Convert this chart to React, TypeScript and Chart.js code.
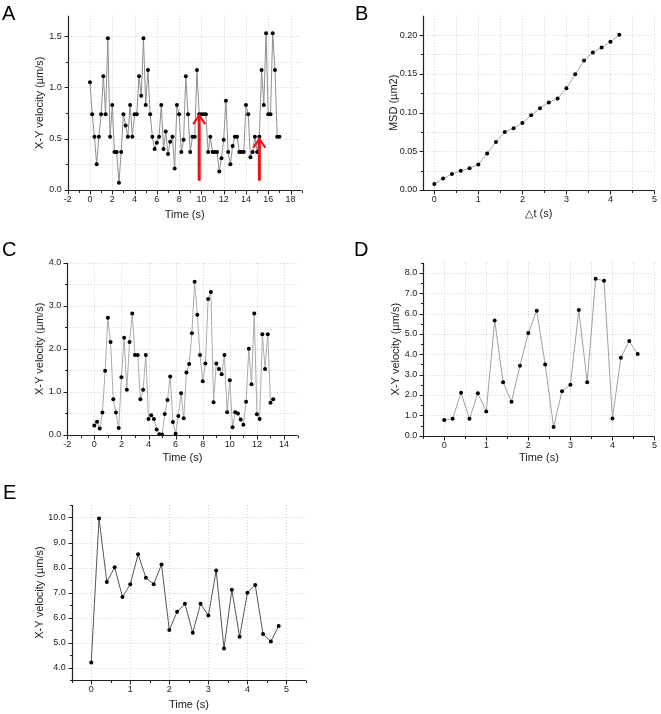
import React, { useEffect, useRef } from "react";
import { Chart, registerables } from "chart.js";

Chart.register(...registerables);

const FONT = "'Liberation Sans', Arial, Helvetica, sans-serif";

// ---------- Panel A ----------
const A_TIME = [0, 0.2, 0.4, 0.6, 0.8, 1, 1.2, 1.4, 1.6, 1.8, 2, 2.2, 2.4, 2.6, 2.8, 3, 3.2, 3.4, 3.6, 3.8, 4, 4.2, 4.4, 4.6, 4.8, 5, 5.2, 5.4, 5.6, 5.8, 6, 6.2, 6.4, 6.6, 6.8, 7, 7.2, 7.4, 7.6, 7.8, 8, 8.2, 8.4, 8.6, 8.8, 9, 9.2, 9.4, 9.6, 9.8, 10, 10.2, 10.4, 10.6, 10.8, 11, 11.2, 11.4, 11.6, 11.8, 12, 12.2, 12.4, 12.6, 12.8, 13, 13.2, 13.4, 13.6, 13.8, 14, 14.2, 14.4, 14.6, 14.8, 15, 15.2, 15.4, 15.6, 15.8, 16, 16.2, 16.4, 16.6, 16.8, 17];
const A_VEL = [1.05, 0.74, 0.52, 0.25, 0.52, 0.74, 1.11, 0.74, 1.48, 0.52, 0.83, 0.37, 0.37, 0.07, 0.37, 0.74, 0.63, 0.52, 0.83, 0.52, 0.74, 0.74, 1.11, 0.92, 1.48, 0.83, 1.17, 0.74, 0.52, 0.40, 0.46, 0.52, 0.83, 0.40, 0.57, 0.35, 0.47, 0.52, 0.21, 0.83, 0.74, 0.37, 0.49, 1.11, 0.74, 0.37, 0.52, 0.52, 1.17, 0.74, 0.74, 0.74, 0.74, 0.37, 0.52, 0.37, 0.37, 0.37, 0.18, 0.31, 0.49, 0.87, 0.37, 0.25, 0.43, 0.52, 0.52, 0.37, 0.37, 0.37, 0.83, 0.74, 0.32, 0.37, 0.52, 0.37, 0.52, 1.17, 0.83, 1.53, 0.74, 0.74, 1.53, 1.17, 0.52, 0.52];
const A_ARROW_T = [9.8, 15.2];
const A_ARROW_FROM = [0.09, 0.09];
const A_ARROW_TO = [0.73, 0.5];
const A_X_TICKS = [-2, 0, 2, 4, 6, 8, 10, 12, 14, 16, 18];
const A_X_MINOR = [-1, 1, 3, 5, 7, 9, 11, 13, 15, 17, 19];
const A_X_GRID = [0, 2, 4, 6, 8, 10, 12, 14, 16, 18];
const A_Y_TICKS = [0, 0.5, 1.0, 1.5];
const A_Y_MINOR = [0.25, 0.75, 1.25];
const A_Y_GRID = [0.25, 0.5, 0.75, 1.0, 1.25, 1.5];

// ---------- Panel B ----------
const B_LAG = [0, 0.2, 0.4, 0.6, 0.8, 1, 1.2, 1.4, 1.6, 1.8, 2, 2.2, 2.4, 2.6, 2.8, 3, 3.2, 3.4, 3.6, 3.8, 4, 4.2];
const B_MSD = [0.0078, 0.0147, 0.0208, 0.0247, 0.0281, 0.0329, 0.0472, 0.0619, 0.0749, 0.0797, 0.0866, 0.0965, 0.1056, 0.113, 0.1182, 0.1312, 0.1494, 0.1671, 0.1775, 0.184, 0.1913, 0.2004];
const B_X_TICKS = [0, 1, 2, 3, 4, 5];
const B_X_MINOR = [0.5, 1.5, 2.5, 3.5, 4.5];
const B_X_GRID = [0, 0.5, 1, 1.5, 2, 2.5, 3, 3.5, 4, 4.5, 5];
const B_Y_TICKS = [0, 0.05, 0.1, 0.15, 0.2];
const B_Y_MINOR = [0.025, 0.075, 0.125, 0.175];
const B_Y_GRID = [0.025, 0.05, 0.075, 0.1, 0.125, 0.15, 0.175, 0.2];

// ---------- Panel C ----------
const C_TIME = [0, 0.2, 0.4, 0.6, 0.8, 1, 1.2, 1.4, 1.6, 1.8, 2, 2.2, 2.4, 2.6, 2.8, 3, 3.2, 3.4, 3.6, 3.8, 4, 4.2, 4.4, 4.6, 4.8, 5, 5.2, 5.4, 5.6, 5.8, 6, 6.2, 6.4, 6.6, 6.8, 7, 7.2, 7.4, 7.6, 7.8, 8, 8.2, 8.4, 8.6, 8.8, 9, 9.2, 9.4, 9.6, 9.8, 10, 10.2, 10.4, 10.6, 10.8, 11, 11.2, 11.4, 11.6, 11.8, 12, 12.2, 12.4, 12.6, 12.8, 13, 13.2];
const C_VEL = [0.22, 0.31, 0.15, 0.52, 1.49, 2.72, 2.16, 0.83, 0.52, 0.16, 1.34, 2.26, 1.05, 2.16, 2.82, 1.86, 1.86, 0.83, 1.05, 1.86, 0.37, 0.46, 0.37, 0.13, 0.02, 0.01, 0.49, 0.81, 1.36, 0.3, 0.03, 0.44, 0.97, 0.39, 1.45, 1.65, 2.36, 3.56, 2.79, 1.86, 1.25, 1.66, 3.16, 3.32, 0.76, 1.66, 1.53, 1.41, 1.86, 0.53, 1.27, 0.18, 0.53, 0.5, 0.36, 0.24, 0.77, 2.0, 1.18, 2.82, 0.48, 0.37, 2.34, 1.53, 2.34, 0.75, 0.83];
const C_X_TICKS = [-2, 0, 2, 4, 6, 8, 10, 12, 14];
const C_X_MINOR = [-1, 1, 3, 5, 7, 9, 11, 13, 15];
const C_X_GRID = [0, 2, 4, 6, 8, 10, 12, 14];
const C_Y_TICKS = [0, 1, 2, 3, 4];
const C_Y_MINOR = [0.5, 1.5, 2.5, 3.5];
const C_Y_GRID = [0.5, 1, 1.5, 2, 2.5, 3, 3.5, 4];

// ---------- Panel D ----------
const D_TIME = [0, 0.2, 0.4, 0.6, 0.8, 1, 1.2, 1.4, 1.6, 1.8, 2, 2.2, 2.4, 2.6, 2.8, 3, 3.2, 3.4, 3.6, 3.8, 4, 4.2, 4.4, 4.6];
const D_VEL = [0.77, 0.83, 2.11, 0.83, 2.08, 1.19, 5.66, 2.63, 1.67, 3.44, 5.04, 6.14, 3.5, 0.43, 2.18, 2.5, 6.17, 2.63, 7.71, 7.61, 0.85, 3.83, 4.65, 4.01];
const D_X_TICKS = [0, 1, 2, 3, 4, 5];
const D_X_MINOR = [-0.5, 0.5, 1.5, 2.5, 3.5, 4.5];
const D_X_GRID = [0, 0.5, 1, 1.5, 2, 2.5, 3, 3.5, 4, 4.5, 5];
const D_Y_TICKS = [0, 1, 2, 3, 4, 5, 6, 7, 8];
const D_Y_MINOR = [0.5, 1.5, 2.5, 3.5, 4.5, 5.5, 6.5, 7.5, 8.5];
const D_Y_GRID = [1, 2, 3, 4, 5, 6, 7, 8];

// ---------- Panel E ----------
const E_TIME = [0, 0.2, 0.4, 0.6, 0.8, 1, 1.2, 1.4, 1.6, 1.8, 2, 2.2, 2.4, 2.6, 2.8, 3, 3.2, 3.4, 3.6, 3.8, 4, 4.2, 4.4, 4.6, 4.8];
const E_VEL = [4.2, 9.96, 7.42, 8.01, 6.82, 7.33, 8.53, 7.59, 7.33, 8.12, 5.5, 6.23, 6.55, 5.39, 6.55, 6.08, 7.88, 4.76, 7.11, 5.23, 6.99, 7.3, 5.34, 5.04, 5.66];
const E_X_TICKS = [0, 1, 2, 3, 4, 5];
const E_X_MINOR = [-0.5, 0.5, 1.5, 2.5, 3.5, 4.5, 5.5];
const E_X_GRID = [0, 1, 2, 3, 4, 5];
const E_Y_TICKS = [4, 5, 6, 7, 8, 9, 10];
const E_Y_MINOR = [3.5, 4.5, 5.5, 6.5, 7.5, 8.5, 9.5, 10.5];
const E_Y_GRID = [4, 5, 6, 7, 8, 9, 10];

const VEL_TITLE = "X-Y velocity (µm/s)";
const TIME_TITLE = "Time (s)";

type Panel = {
  letter: string;
  letterLeft: number;
  letterTop: number;
  box: { l: number; t: number; w: number; h: number };
  area: { l: number; t: number; r: number; b: number };
  yTitleX: number;
  xTitleY: number;
  xMin: number; xMax: number; yMin: number; yMax: number;
  xTicks: number[]; xMinor: number[]; xGrid: number[];
  yTicks: number[]; yMinor: number[]; yGrid: number[];
  xDec: number; yDec: number;
  xTitle: string; yTitle: string;
  xs: number[]; ys: number[];
  lineColor: string;
  arrows?: { t: number[]; from: number[]; to: number[] };
};

const PANELS: Panel[] = [
  {
    letter: "A", letterLeft: 2, letterTop: 3,
    box: { l: 0, t: 0, w: 330, h: 225 }, area: { l: 67.7, t: 15.7, r: 301.7, b: 190 },
    yTitleX: 40, xTitleY: 214.5,
    xMin: -2, xMax: 19, yMin: 0, yMax: 1.7,
    xTicks: A_X_TICKS, xMinor: A_X_MINOR, xGrid: A_X_GRID,
    yTicks: A_Y_TICKS, yMinor: A_Y_MINOR, yGrid: A_Y_GRID,
    xDec: 0, yDec: 1, xTitle: TIME_TITLE, yTitle: VEL_TITLE,
    xs: A_TIME, ys: A_VEL, lineColor: "#8e8e8e",
    arrows: { t: A_ARROW_T, from: A_ARROW_FROM, to: A_ARROW_TO },
  },
  {
    letter: "B", letterLeft: 355, letterTop: 3,
    box: { l: 330, t: 0, w: 331, h: 225 }, area: { l: 423.3, t: 15.7, r: 655, b: 190 },
    yTitleX: 393.5, xTitleY: 213.5,
    xMin: -0.25, xMax: 5, yMin: 0, yMax: 0.225,
    xTicks: B_X_TICKS, xMinor: B_X_MINOR, xGrid: B_X_GRID,
    yTicks: B_Y_TICKS, yMinor: B_Y_MINOR, yGrid: B_Y_GRID,
    xDec: 0, yDec: 2, xTitle: "△t (s)", yTitle: "MSD (µm2)",
    xs: B_LAG, ys: B_MSD, lineColor: "#a8a8a8",
  },
  {
    letter: "C", letterLeft: 2, letterTop: 239,
    box: { l: 0, t: 228, w: 330, h: 237 }, area: { l: 67.2, t: 262.7, r: 297.6, b: 435 },
    yTitleX: 40, xTitleY: 458,
    xMin: -2, xMax: 15, yMin: 0, yMax: 4,
    xTicks: C_X_TICKS, xMinor: C_X_MINOR, xGrid: C_X_GRID,
    yTicks: C_Y_TICKS, yMinor: C_Y_MINOR, yGrid: C_Y_GRID,
    xDec: 0, yDec: 1, xTitle: TIME_TITLE, yTitle: VEL_TITLE,
    xs: C_TIME, ys: C_VEL, lineColor: "#ababab",
  },
  {
    letter: "D", letterLeft: 354, letterTop: 239,
    box: { l: 330, t: 228, w: 331, h: 237 }, area: { l: 423.2, t: 262.7, r: 655, b: 435.7 },
    yTitleX: 395.7, xTitleY: 458,
    xMin: -0.5, xMax: 5, yMin: 0, yMax: 8.5,
    xTicks: D_X_TICKS, xMinor: D_X_MINOR, xGrid: D_X_GRID,
    yTicks: D_Y_TICKS, yMinor: D_Y_MINOR, yGrid: D_Y_GRID,
    xDec: 0, yDec: 1, xTitle: TIME_TITLE, yTitle: VEL_TITLE,
    xs: D_TIME, ys: D_VEL, lineColor: "#a0a0a0",
  },
  {
    letter: "E", letterLeft: 3, letterTop: 482,
    box: { l: 0, t: 470, w: 330, h: 244 }, area: { l: 71.7, t: 505, r: 306, b: 680 },
    yTitleX: 40, xTitleY: 705,
    xMin: -0.5, xMax: 5.5, yMin: 3.5, yMax: 10.5,
    xTicks: E_X_TICKS, xMinor: E_X_MINOR, xGrid: E_X_GRID,
    yTicks: E_Y_TICKS, yMinor: E_Y_MINOR, yGrid: E_Y_GRID,
    xDec: 0, yDec: 1, xTitle: TIME_TITLE, yTitle: VEL_TITLE,
    xs: E_TIME, ys: E_VEL, lineColor: "#555555",
  },
];

const TITLE_SIZE = 11;
const TICK_SIZE = 9;
const TEXT_COLOR = "#1a1a1a";

function furniture(p: Panel) {
  return {
    id: "furniture" + p.letter,
    beforeDatasetsDraw(chart: any) {
      const { ctx, chartArea: a, scales } = chart;
      const x = scales.x, y = scales.y;
      ctx.save();
      ctx.strokeStyle = "#cfcfcf";
      ctx.lineWidth = 1;
      ctx.setLineDash([1, 2]);
      for (const v of p.xGrid) {
        const px = Math.round(x.getPixelForValue(v)) + 0.5;
        ctx.beginPath(); ctx.moveTo(px, a.top); ctx.lineTo(px, a.bottom); ctx.stroke();
      }
      for (const v of p.yGrid) {
        const py = Math.round(y.getPixelForValue(v)) + 0.5;
        ctx.beginPath(); ctx.moveTo(a.left, py); ctx.lineTo(a.right, py); ctx.stroke();
      }
      ctx.restore();
    },
    afterDatasetsDraw(chart: any) {
      const { ctx, chartArea: a, scales } = chart;
      const x = scales.x, y = scales.y;
      ctx.save();
      if (p.arrows) {
        ctx.strokeStyle = "#e8141c";
        ctx.lineCap = "butt";
        for (let i = 0; i < p.arrows.t.length; i++) {
          const px = x.getPixelForValue(p.arrows.t[i]);
          const y0 = y.getPixelForValue(p.arrows.from[i]);
          const y1 = y.getPixelForValue(p.arrows.to[i]);
          ctx.lineWidth = 3;
          ctx.beginPath(); ctx.moveTo(px, y0); ctx.lineTo(px, y1 + 2); ctx.stroke();
          ctx.lineWidth = 2.2;
          ctx.beginPath();
          ctx.moveTo(px - 6, y1 + 9); ctx.lineTo(px, y1); ctx.lineTo(px + 6, y1 + 9);
          ctx.stroke();
        }
      }
      ctx.strokeStyle = "#222";
      ctx.lineWidth = 1.2;
      const L = Math.round(a.left) + 0.5;
      const B = Math.round(a.bottom) + 0.5;
      ctx.beginPath(); ctx.moveTo(L, a.top); ctx.lineTo(L, B); ctx.lineTo(a.right, B); ctx.stroke();
      ctx.lineWidth = 1;
      const tick = (vals: number[], len: number, horiz: boolean) => {
        for (const v of vals) {
          ctx.beginPath();
          if (horiz) {
            const px = Math.round(x.getPixelForValue(v)) + 0.5;
            ctx.moveTo(px, B); ctx.lineTo(px, B + len);
          } else {
            const py = Math.round(y.getPixelForValue(v)) + 0.5;
            ctx.moveTo(L, py); ctx.lineTo(L - len, py);
          }
          ctx.stroke();
        }
      };
      tick(p.xTicks, 4, true);
      tick(p.xMinor, 2.5, true);
      tick(p.yTicks, 4, false);
      tick(p.yMinor, 2.5, false);
      ctx.restore();
    },
  };
}

function buildConfig(p: Panel): any {
  const half = (TITLE_SIZE * 1.2) / 2;
  const yAxisWidth = p.area.l - p.box.l;
  const xAxisHeight = p.box.t + p.box.h - p.area.b;
  return {
    type: "line",
    data: {
      datasets: [
        {
          data: p.xs.map((t, i) => ({ x: t, y: p.ys[i] })),
          borderColor: p.lineColor,
          borderWidth: 1,
          tension: 0,
          pointRadius: 2,
          pointBorderWidth: 0,
          pointBackgroundColor: "#000",
          pointBorderColor: "#000",
          clip: false,
        },
      ],
    },
    options: {
      animation: false,
      responsive: false,
      devicePixelRatio: 1,
      events: [],
      layout: {
        autoPadding: false,
        padding: { left: 0, top: p.area.t - p.box.t, right: p.box.l + p.box.w - p.area.r, bottom: 0 },
      },
      plugins: { legend: { display: false }, tooltip: { enabled: false } },
      scales: {
        x: {
          type: "linear",
          min: p.xMin,
          max: p.xMax,
          afterBuildTicks: (s: any) => { s.ticks = p.xTicks.map((v) => ({ value: v })); },
          afterFit: (s: any) => { s.height = xAxisHeight; },
          grid: { display: false, drawTicks: false },
          border: { display: false },
          ticks: {
            autoSkip: false, maxRotation: 0, padding: 4, color: TEXT_COLOR,
            font: { family: FONT, size: TICK_SIZE },
            callback: (v: any) => Number(v).toFixed(p.xDec),
          },
          title: {
            display: true, text: p.xTitle, color: TEXT_COLOR,
            font: { family: FONT, size: TITLE_SIZE },
            padding: { top: 0, bottom: p.box.t + p.box.h - p.xTitleY - half },
          },
        },
        y: {
          type: "linear",
          min: p.yMin,
          max: p.yMax,
          afterBuildTicks: (s: any) => { s.ticks = p.yTicks.map((v) => ({ value: v })); },
          afterFit: (s: any) => { s.width = yAxisWidth; },
          grid: { display: false, drawTicks: false },
          border: { display: false },
          ticks: {
            autoSkip: false, padding: 6, color: TEXT_COLOR,
            font: { family: FONT, size: TICK_SIZE },
            callback: (v: any) => Number(v).toFixed(p.yDec),
          },
          title: {
            display: true, text: p.yTitle, color: TEXT_COLOR,
            font: { family: FONT, size: TITLE_SIZE },
            padding: { top: p.yTitleX - p.box.l - half, bottom: 0 },
          },
        },
      },
    },
    plugins: [furniture(p)],
  };
}

function ChartPanel({ p }: { p: Panel }) {
  const ref = useRef<HTMLCanvasElement>(null);
  useEffect(() => {
    const chart = new Chart(ref.current as HTMLCanvasElement, buildConfig(p));
    return () => chart.destroy();
  }, [p]);
  return (
    <canvas
      ref={ref}
      width={p.box.w}
      height={p.box.h}
      style={{ position: "absolute", left: p.box.l, top: p.box.t, width: p.box.w, height: p.box.h }}
    />
  );
}

export default function App() {
  useEffect(() => {
    document.body.style.margin = "0";
  }, []);
  return (
    <div style={{ position: "relative", width: 661, height: 714, background: "#fff", overflow: "hidden" }}>
      {PANELS.map((p) => (
        <ChartPanel key={p.letter} p={p} />
      ))}
      {PANELS.map((p) => (
        <div
          key={"l" + p.letter}
          style={{
            position: "absolute", left: p.letterLeft, top: p.letterTop,
            fontFamily: FONT, fontSize: 20, lineHeight: 1, color: "#000",
          }}
        >
          {p.letter}
        </div>
      ))}
    </div>
  );
}
